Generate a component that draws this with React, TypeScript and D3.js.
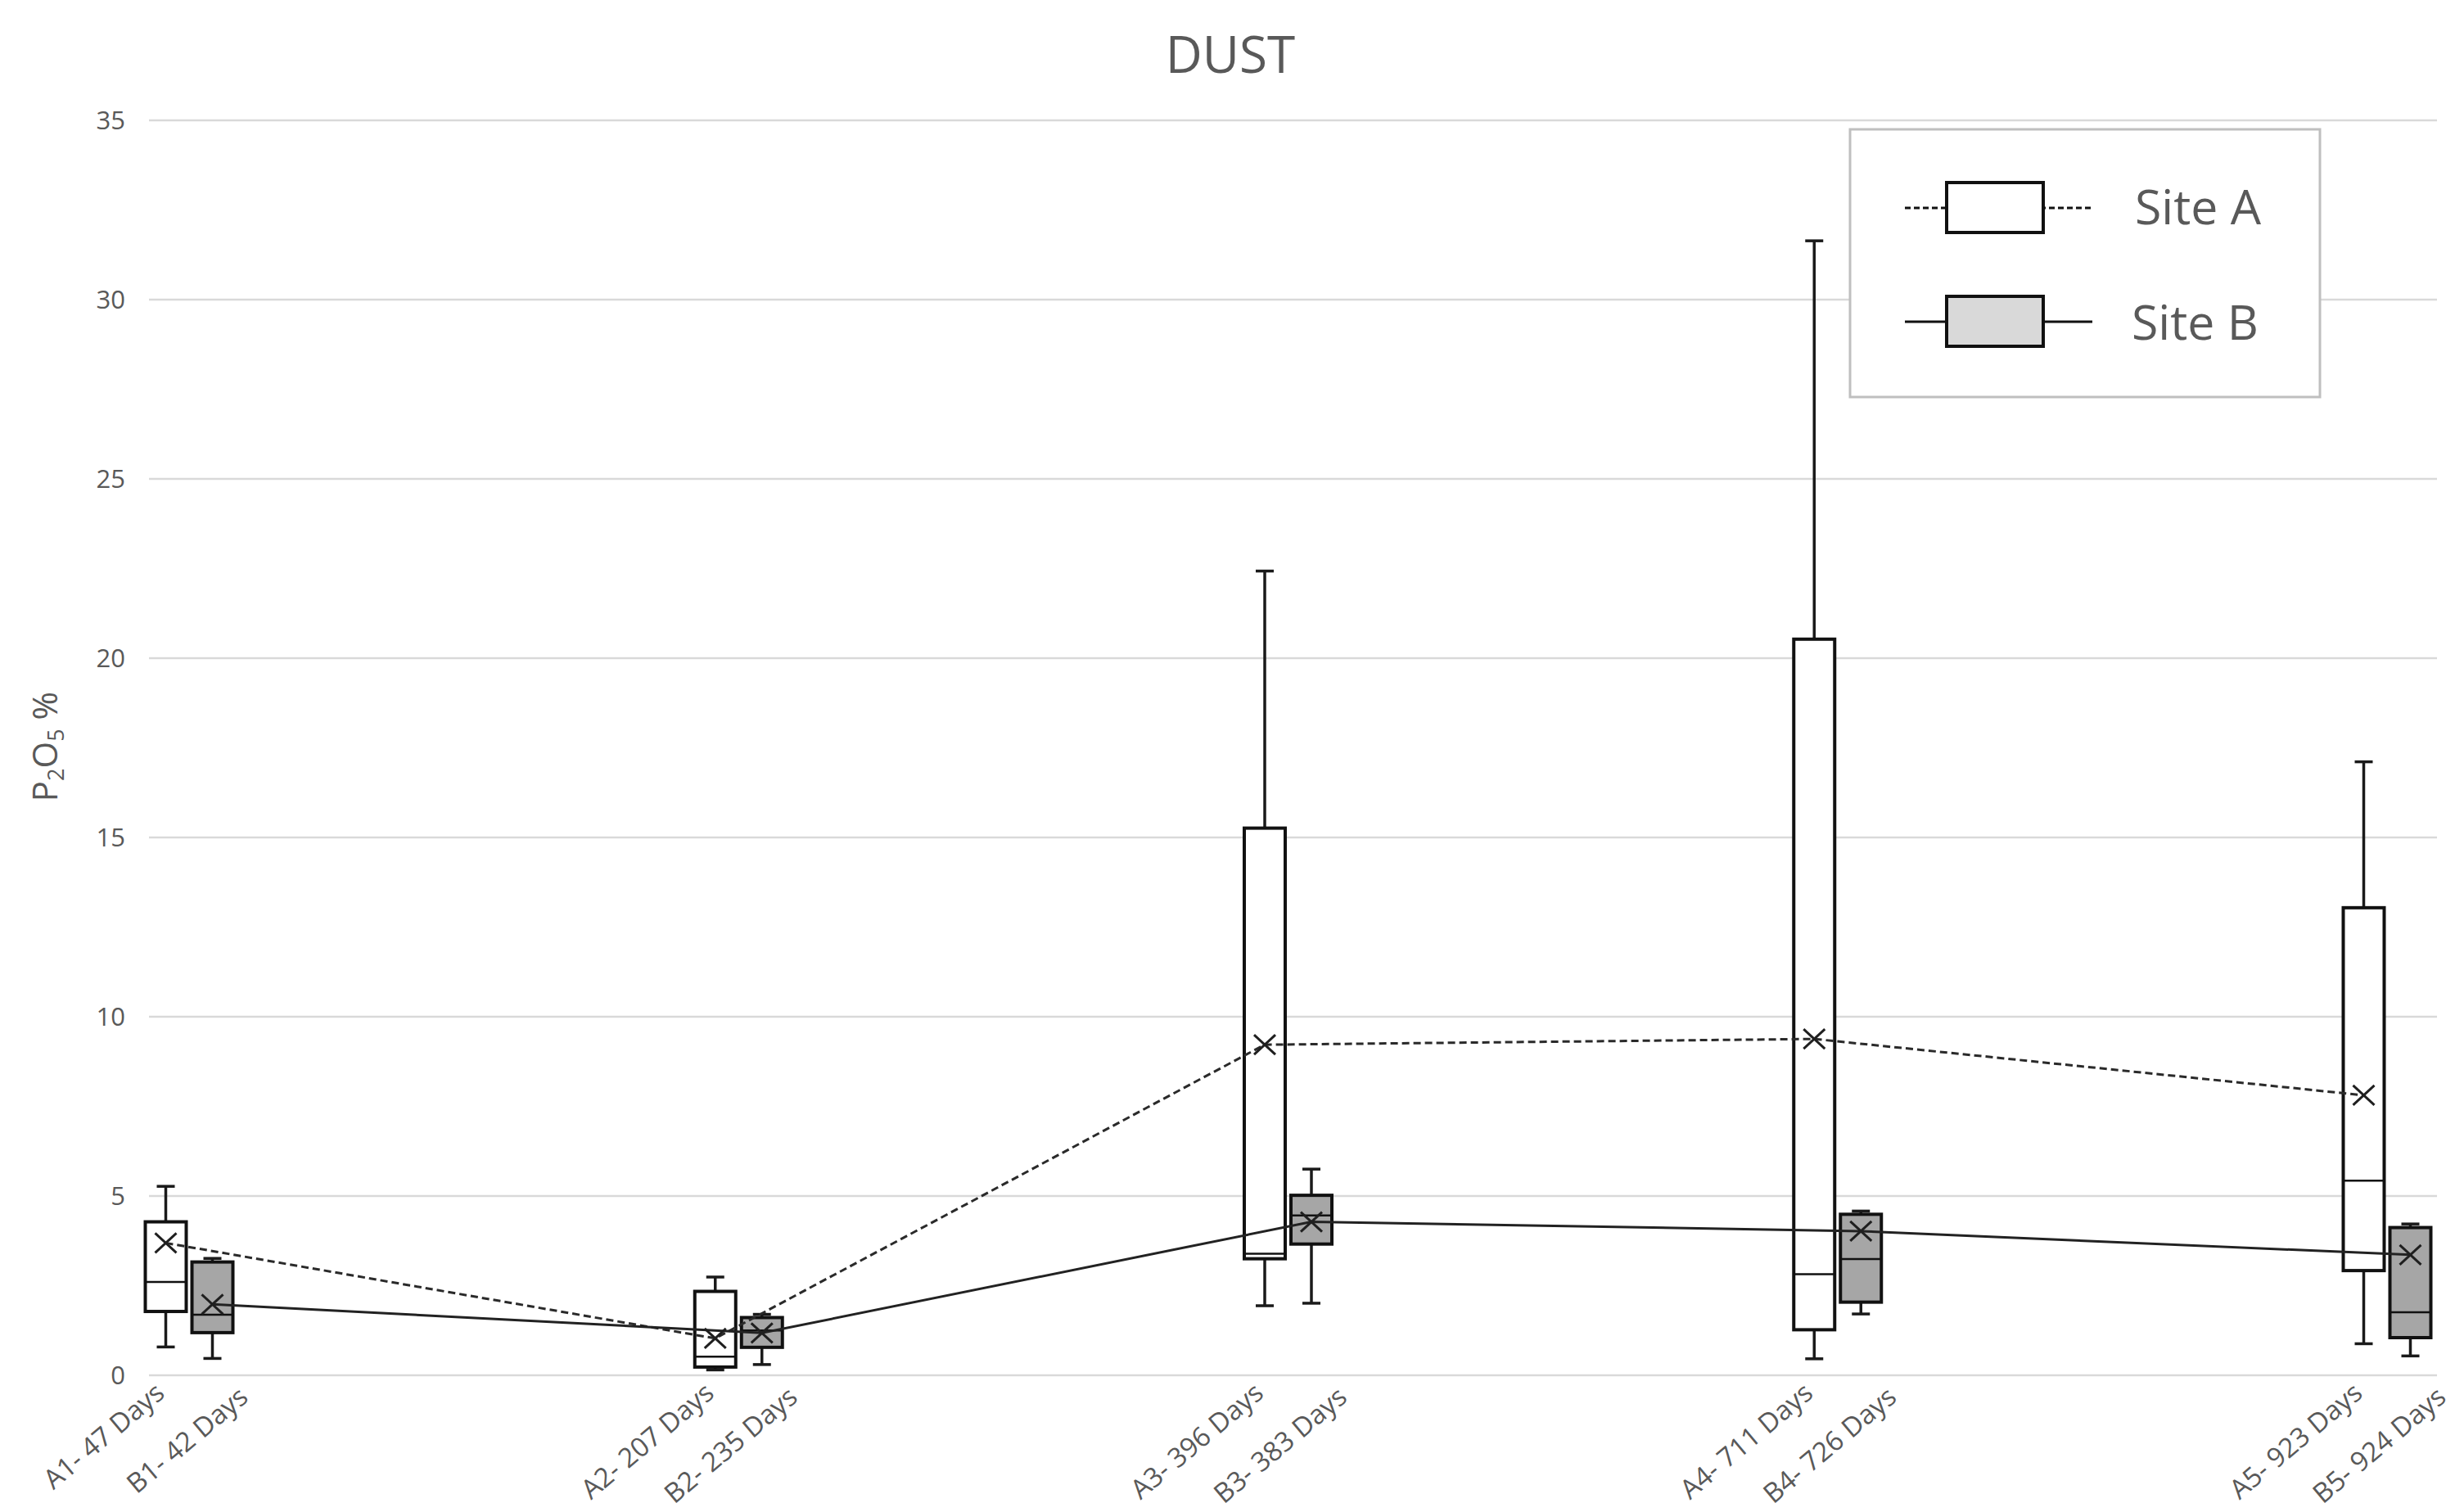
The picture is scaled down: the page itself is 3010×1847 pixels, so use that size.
import React from "react";
import * as d3 from "d3";

const groups = ["G1", "G2", "G3", "G4", "G5"];
const labelsA = ["A1- 47 Days", "A2- 207 Days", "A3- 396 Days", "A4- 711 Days", "A5- 923 Days"];
const labelsB = ["B1- 42 Days", "B2- 235 Days", "B3- 383 Days", "B4- 726 Days", "B5- 924 Days"];

const aMin = [0.79, 0.15, 1.94, 0.46, 0.88];
const aQ1 = [1.78, 0.23, 3.25, 1.27, 2.92];
const aMed = [2.6, 0.52, 3.39, 2.82, 5.43];
const aQ3 = [4.28, 2.34, 15.26, 20.53, 13.04];
const aMax = [5.27, 2.74, 22.43, 31.64, 17.11];
const aMean = [3.69, 1.03, 9.22, 9.38, 7.81];

const bMin = [0.47, 0.3, 2.01, 1.71, 0.54];
const bQ1 = [1.19, 0.78, 3.66, 2.04, 1.05];
const bMed = [1.69, 1.25, 4.46, 3.24, 1.76];
const bQ3 = [3.16, 1.61, 5.02, 4.49, 4.12];
const bMax = [3.26, 1.7, 5.75, 4.58, 4.22];
const bMean = [1.98, 1.18, 4.28, 4.02, 3.36];

const yTicks = [0, 5, 10, 15, 20, 25, 30, 35];

const W = 3010;
const H = 1847;
const plotL = 182;
const plotR = 2977;
const FONT = "'Open Sans', 'DejaVu Sans', sans-serif";
const TXT = "#595959";

export default function App() {
  const y = d3.scaleLinear().domain([0, 35]).range([1680, 147]);
  const x = d3.scalePoint<string>().domain(groups).range([plotL + 49, plotR - 61]);
  const off = 28.5;
  const bw = 50;
  const capW = 22;

  const series = [
    { key: "A", dx: -off, min: aMin, q1: aQ1, med: aMed, q3: aQ3, max: aMax, mean: aMean, fill: "#ffffff", dash: "9,5" },
    { key: "B", dx: off, min: bMin, q1: bQ1, med: bMed, q3: bQ3, max: bMax, mean: bMean, fill: "#a6a6a6", dash: "" },
  ];

  const line = d3.line<[number, number]>().x((d) => d[0]).y((d) => d[1]);

  const xMark = (cx: number, cy: number, k: string) => (
    <g key={k} stroke="#1f1f1f" strokeWidth={3}>
      <line x1={cx - 13} y1={cy - 12} x2={cx + 13} y2={cy + 12} />
      <line x1={cx - 13} y1={cy + 12} x2={cx + 13} y2={cy - 12} />
    </g>
  );

  return (
    <svg width={W} height={H} style={{ position: "absolute", left: 0, top: 0, background: "#fff" }} fontFamily={FONT}>
      <rect x={0} y={0} width={W} height={H} fill="#fff" />
      <text x={1503} y={89} textAnchor="middle" fontSize={62} fill={TXT}>DUST</text>

      {yTicks.map((t) => (
        <g key={t}>
          <line x1={plotL} x2={plotR} y1={y(t)} y2={y(t)} stroke="#d9d9d9" strokeWidth={2.5} />
          <text x={153} y={y(t)} dy="0.36em" textAnchor="end" fontSize={31} fill={TXT}>{t}</text>
        </g>
      ))}

      <text transform={`translate(70,912) rotate(-90)`} textAnchor="middle" fontSize={42} fill={TXT}>
        P<tspan fontSize={27} dy={8}>2</tspan><tspan dy={-8}>O</tspan><tspan fontSize={27} dy={8}>5</tspan><tspan dy={-8}> %</tspan>
      </text>

      {series.map((s) =>
        groups.map((g, i) => {
          const cx = (x(g) as number) + s.dx;
          return (
            <g key={s.key + g}>
              <line x1={cx} x2={cx} y1={y(s.max[i])} y2={y(s.q3[i])} stroke="#1a1a1a" strokeWidth={3.5} />
              <line x1={cx} x2={cx} y1={y(s.q1[i])} y2={y(s.min[i])} stroke="#1a1a1a" strokeWidth={3.5} />
              <line x1={cx - capW / 2} x2={cx + capW / 2} y1={y(s.max[i])} y2={y(s.max[i])} stroke="#1a1a1a" strokeWidth={3.5} />
              <line x1={cx - capW / 2} x2={cx + capW / 2} y1={y(s.min[i])} y2={y(s.min[i])} stroke="#1a1a1a" strokeWidth={3.5} />
              <rect x={cx - bw / 2} y={y(s.q3[i])} width={bw} height={y(s.q1[i]) - y(s.q3[i])} fill={s.fill} stroke="#111" strokeWidth={4} />
              <line x1={cx - bw / 2} x2={cx + bw / 2} y1={y(s.med[i])} y2={y(s.med[i])} stroke="#111" strokeWidth={2.5} />
            </g>
          );
        })
      )}

      {series.map((s) => (
        <path
          key={"l" + s.key}
          d={line(groups.map((g, i) => [(x(g) as number) + s.dx, y(s.mean[i])]))!}
          fill="none"
          stroke={s.key === "A" ? "#2a2a2a" : "#222"}
          strokeWidth={3}
          strokeDasharray={s.dash || undefined}
        />
      ))}
      {series.map((s) => groups.map((g, i) => xMark((x(g) as number) + s.dx, y(s.mean[i]), "m" + s.key + g)))}

      {groups.map((g, i) => {
        const gx = x(g) as number;
        return (
          <g key={"xl" + g} fontSize={33} fill={TXT}>
            <text transform={`translate(${gx - 28},1705) rotate(-40)`} textAnchor="end">{labelsA[i]}</text>
            <text transform={`translate(${gx + 74},1710) rotate(-40)`} textAnchor="end">{labelsB[i]}</text>
          </g>
        );
      })}

      <rect x={2260} y={158} width={574} height={327} fill="#fff" stroke="#bfbfbf" strokeWidth={3} />
      <line x1={2327} x2={2556} y1={254} y2={254} stroke="#111" strokeWidth={3} strokeDasharray="7,4" />
      <rect x={2378} y={223} width={118} height={61} fill="#fff" stroke="#111" strokeWidth={4} />
      <text x={2608} y={274} fontSize={59} fill={TXT}>Site A</text>
      <line x1={2327} x2={2556} y1={393} y2={393} stroke="#111" strokeWidth={3} />
      <rect x={2378} y={362} width={118} height={61} fill="#d9d9d9" stroke="#111" strokeWidth={4} />
      <text x={2604} y={415} fontSize={59} fill={TXT}>Site B</text>
    </svg>
  );
}
